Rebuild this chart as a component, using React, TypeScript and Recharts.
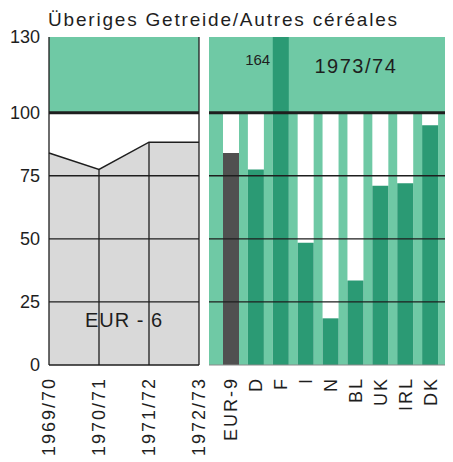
import {
  Area,
  AreaChart,
  Bar,
  BarChart,
  CartesianGrid,
  Cell,
  ReferenceArea,
  ReferenceDot,
  ReferenceLine,
  XAxis,
  YAxis,
} from "recharts";

const years = ["1969/70", "1970/71", "1971/72", "1972/73"];
const eur6 = [84, 77.5, 88.3, 88.3];

const countries = ["EUR-9", "D", "F", "I", "N", "BL", "UK", "IRL", "DK"];
const selfSupply = [84, 77.5, 164, 48.5, 18.5, 33.5, 71, 72, 95];
const fullSupply = [100, 100, 100, 100, 100, 100, 100, 100, 100];

const yTicks = [0, 25, 50, 75, 100, 130];
const gridValues = [25, 50, 75];

const FONT = "'Liberation Sans', Arial, Helvetica, sans-serif";
const LIGHT_GREEN = "#6fc9a5";
const DARK_GREEN = "#2b9a74";
const INK = "#1e1e1e";

const yearData = years.map((year, i) => ({ year, value: eur6[i] }));
const countryData = countries.map((country, i) => ({
  country,
  value: selfSupply[i],
  full: fullSupply[i],
}));

function RotatedTick({ x, y, payload }: any) {
  return (
    <text
      transform={`translate(${x},${y + 12}) rotate(-90)`}
      textAnchor="end"
      dominantBaseline="central"
      fontFamily={FONT}
      fontSize={18}
      letterSpacing={2}
      fill={INK}
    >
      {payload.value}
    </text>
  );
}

function Eur6Panel() {
  // extra right margin so the last rotated year label is not clipped
  return (
    <AreaChart
      width={215}
      height={462}
      data={yearData}
      margin={{ top: 37, right: 16, bottom: 0, left: 0 }}
    >
      <XAxis
        dataKey="year"
        height={97}
        tickSize={0}
        tickMargin={0}
        axisLine={{ stroke: INK, strokeWidth: 1.5 }}
        tick={<RotatedTick />}
        interval={0}
      />
      <YAxis
        width={49}
        domain={[0, 130]}
        ticks={yTicks}
        interval={0}
        axisLine={false}
        tickLine={false}
        tickSize={0}
        tickMargin={9}
        tick={{ fill: INK, fontFamily: FONT, fontSize: 18 }}
      />
      <ReferenceArea y1={100} y2={130} fill={LIGHT_GREEN} fillOpacity={1} stroke="none" />
      <Area
        type="linear"
        dataKey="value"
        stroke={INK}
        strokeWidth={1.5}
        fill="#d9d9d9"
        fillOpacity={1}
        isAnimationActive={false}
        dot={false}
        activeDot={false}
      />
      {gridValues.map((v) => (
        <ReferenceLine key={v} y={v} stroke={INK} strokeWidth={1.3} />
      ))}
      {years.slice(1, -1).map((year, i) => (
        <ReferenceLine
          key={year}
          segment={[
            { x: year, y: 0 },
            { x: year, y: eur6[i + 1] },
          ]}
          stroke={INK}
          strokeWidth={1.3}
        />
      ))}
      <ReferenceLine x={years[0]} stroke={INK} strokeWidth={1.3} />
      <ReferenceLine x={years[years.length - 1]} stroke={INK} strokeWidth={1.3} />
      <ReferenceLine y={100} stroke={INK} strokeWidth={3} />
      <ReferenceArea
        x1={years[1]}
        x2={years[2]}
        y1={10}
        y2={26}
        fillOpacity={0}
        stroke="none"
        label={{
          value: "EUR - 6",
          position: "center",
          fill: INK,
          fontFamily: FONT,
          fontSize: 20,
          letterSpacing: 1,
        }}
      />
    </AreaChart>
  );
}

function CountryPanel() {
  return (
    <BarChart
      width={253}
      height={462}
      data={countryData}
      margin={{ top: 37, right: 8, bottom: 0, left: 9 }}
      barGap={-16}
      barSize={16}
    >
      <CartesianGrid fill={LIGHT_GREEN} horizontal={false} vertical={false} stroke="none" />
      <XAxis
        dataKey="country"
        height={97}
        padding={{ left: 10, right: 2 }}
        tickSize={0}
        tickMargin={0}
        axisLine={{ stroke: "#8a8a8a", strokeWidth: 1 }}
        tick={<RotatedTick />}
        interval={0}
      />
      <YAxis hide domain={[0, 130]} allowDataOverflow />
      <Bar dataKey="full" fill="#ffffff" isAnimationActive={false} />
      <Bar dataKey="value" isAnimationActive={false}>
        {countryData.map((d) => (
          <Cell key={d.country} fill={d.country === "EUR-9" ? "#505050" : DARK_GREEN} />
        ))}
      </Bar>
      {gridValues.map((v) => (
        <ReferenceLine key={v} y={v} stroke={INK} strokeWidth={1.3} />
      ))}
      <ReferenceLine y={100} stroke={INK} strokeWidth={3} />
      <ReferenceDot
        x="F"
        y={121}
        r={0}
        stroke="none"
        label={{
          value: String(selfSupply[2]),
          position: "left",
          offset: 11,
          fill: INK,
          fontFamily: FONT,
          fontSize: 15,
        }}
      />
      <ReferenceDot
        x="BL"
        y={118.5}
        r={0}
        stroke="none"
        label={{
          value: "1973/74",
          position: "center",
          fill: INK,
          fontFamily: FONT,
          fontSize: 20,
          letterSpacing: 1.5,
        }}
      />
    </BarChart>
  );
}

export default function App() {
  return (
    <div
      style={{
        position: "absolute",
        top: 0,
        left: 0,
        width: 453,
        height: 462,
        background: "#ffffff",
        overflow: "hidden",
      }}
    >
      <div
        style={{
          position: "absolute",
          left: 48,
          top: 10,
          fontFamily: FONT,
          fontSize: 19,
          lineHeight: "19px",
          letterSpacing: 1.8,
          color: INK,
          whiteSpace: "nowrap",
        }}
      >
        Überiges Getreide/Autres céréales
      </div>
      <div style={{ position: "absolute", left: 0, top: 0 }}>
        <Eur6Panel />
      </div>
      <div style={{ position: "absolute", left: 200, top: 0 }}>
        <CountryPanel />
      </div>
    </div>
  );
}
